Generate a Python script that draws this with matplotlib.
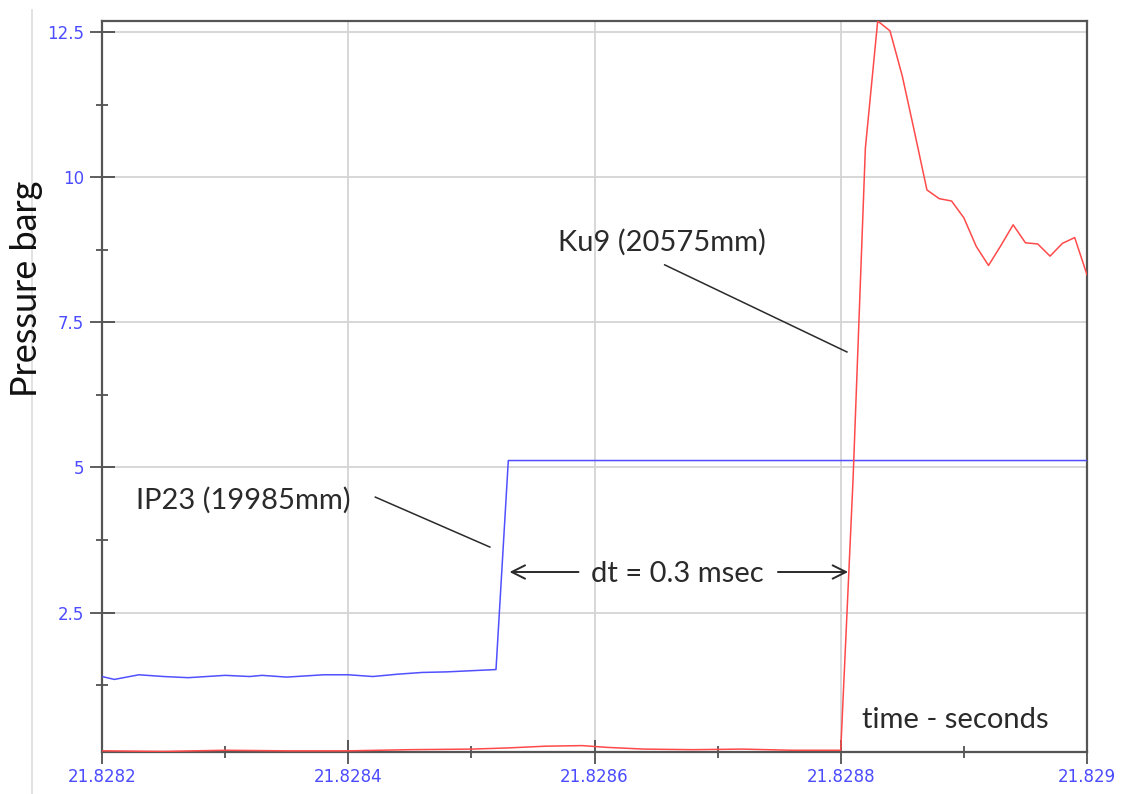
#!/usr/bin/env python3
"""Pressure traces of two gauges around the arrival of the pressure front."""
import matplotlib
matplotlib.use("Agg")
import matplotlib.pyplot as plt
from matplotlib.ticker import MultipleLocator, FixedLocator
import numpy as np

# ── data (time offsets in microseconds from T0, pressure in barg) ─────────
T0 = 21.8282

ip23_us = [0, 10, 30, 50, 70, 100, 120, 130, 150, 180, 200, 220, 240,
           260, 280, 300, 320, 330, 500, 800]
ip23_p = [1.40, 1.35, 1.43, 1.40, 1.38, 1.42, 1.40, 1.42, 1.39, 1.43, 1.43,
          1.40, 1.44, 1.47, 1.48, 1.50, 1.52, 5.12, 5.12, 5.12]

ku9_us = [0, 50, 100, 150, 200, 250, 300, 330, 360, 390, 410, 440, 480,
          520, 560, 600, 610, 620, 630, 640, 650, 660, 670, 680, 690, 700,
          710, 720, 730, 740, 750, 760, 770, 780, 790, 800]
ku9_p = [0.12, 0.11, 0.13, 0.12, 0.12, 0.14, 0.15, 0.17, 0.20, 0.21, 0.18,
         0.15, 0.14, 0.15, 0.13, 0.13, 4.80, 10.50, 12.69, 12.52, 11.74,
         10.77, 9.78, 9.63, 9.59, 9.30, 8.81, 8.48, 8.82, 9.18, 8.87, 8.85,
         8.64, 8.86, 8.96, 8.32]

x_ticks = [21.8282, 21.8284, 21.8286, 21.8288, 21.8290]
x_labels = ["21.8282", "21.8284", "21.8286", "21.8288", "21.829"]
y_ticks = [2.5, 5, 7.5, 10, 12.5]
y_labels = ["2.5", "5", "7.5", "10", "12.5"]

# ── style ─────────────────────────────────────────────────────────────────
TICK_BLUE = "#4b4bff"
FRAME = "#555555"
GRID = "#d4d4d4"
TEXT = "#2a2a2a"
ANN_FONT = ["Lato", "DejaVu Sans"]
ANN_SIZE = 21

fig = plt.figure(figsize=(11.24, 7.94), dpi=100)
ax = fig.add_axes([102 / 1124, 1 - 752 / 794, 985 / 1124, 731 / 794])

t_ip23 = T0 + np.array(ip23_us) * 1e-6
t_ku9 = T0 + np.array(ku9_us) * 1e-6

ax.plot(t_ip23, ip23_p, color="#5050ff", lw=1.1, zorder=3)
ax.plot(t_ku9, ku9_p, color="#ff4a4a", lw=1.1, zorder=3)

ax.set_xlim(21.8282, 21.8290)
ax.set_ylim(0.1, 12.69)

ax.xaxis.set_major_locator(FixedLocator(x_ticks))
ax.set_xticklabels(x_labels)
ax.xaxis.set_minor_locator(MultipleLocator(0.0001))
ax.yaxis.set_major_locator(FixedLocator(y_ticks))
ax.set_yticklabels(y_labels)
ax.yaxis.set_minor_locator(MultipleLocator(1.25))

ax.tick_params(which="major", direction="inout", length=18, width=1.1,
               color="#333333", labelcolor=TICK_BLUE, labelsize=12, pad=4)
ax.tick_params(which="minor", direction="inout", length=9, width=1.1,
               color="#333333")
ax.tick_params(axis="x", which="major", length=17, pad=3)

ax.grid(which="major", color=GRID, lw=1.3, zorder=0)
for sp in ax.spines.values():
    sp.set_color(FRAME)
    sp.set_linewidth(1.6)

# ── annotations ───────────────────────────────────────────────────────────
fig.text(27 / 1124, 1 - 289 / 794, "Pressure barg", rotation=90,
         ha="center", va="center", fontsize=26, color="#111111",
         family=ANN_FONT)

ax.text(21.828655, 8.87, "Ku9 (20575mm)", ha="center", va="center",
        fontsize=ANN_SIZE, color=TEXT, family=ANN_FONT)
ax.plot([21.828657, 21.828805], [8.49, 6.99], color=TEXT, lw=1.1)

ax.text(21.828228, 4.44, "IP23 (19985mm)", ha="left", va="center",
        fontsize=ANN_SIZE, color=TEXT, family=ANN_FONT)
ax.plot([21.828422, 21.828515], [4.49, 3.63], color=TEXT, lw=1.1)

ax.text(21.828667, 3.17, "dt = 0.3 msec", ha="center", va="center",
        fontsize=ANN_SIZE, color=TEXT, family=ANN_FONT)
ax.annotate("", xy=(21.828531, 3.2), xytext=(21.828587, 3.2),
            arrowprops=dict(arrowstyle="->", color=TEXT, lw=1.4,
                            mutation_scale=24, shrinkA=0, shrinkB=0))
ax.annotate("", xy=(21.828806, 3.2), xytext=(21.828749, 3.2),
            arrowprops=dict(arrowstyle="->", color=TEXT, lw=1.4,
                            mutation_scale=24, shrinkA=0, shrinkB=0))

ax.text(21.828817, 0.65, "time - seconds", ha="left", va="center",
        fontsize=ANN_SIZE, color=TEXT, family=ANN_FONT)

# faint page border line on the left
fig.add_artist(plt.Line2D([32 / 1124, 32 / 1124], [0, 1 - 10 / 794],
                          color="#dddddd", lw=1.2, transform=fig.transFigure))

fig.savefig("out.png", dpi=100, facecolor="white")
